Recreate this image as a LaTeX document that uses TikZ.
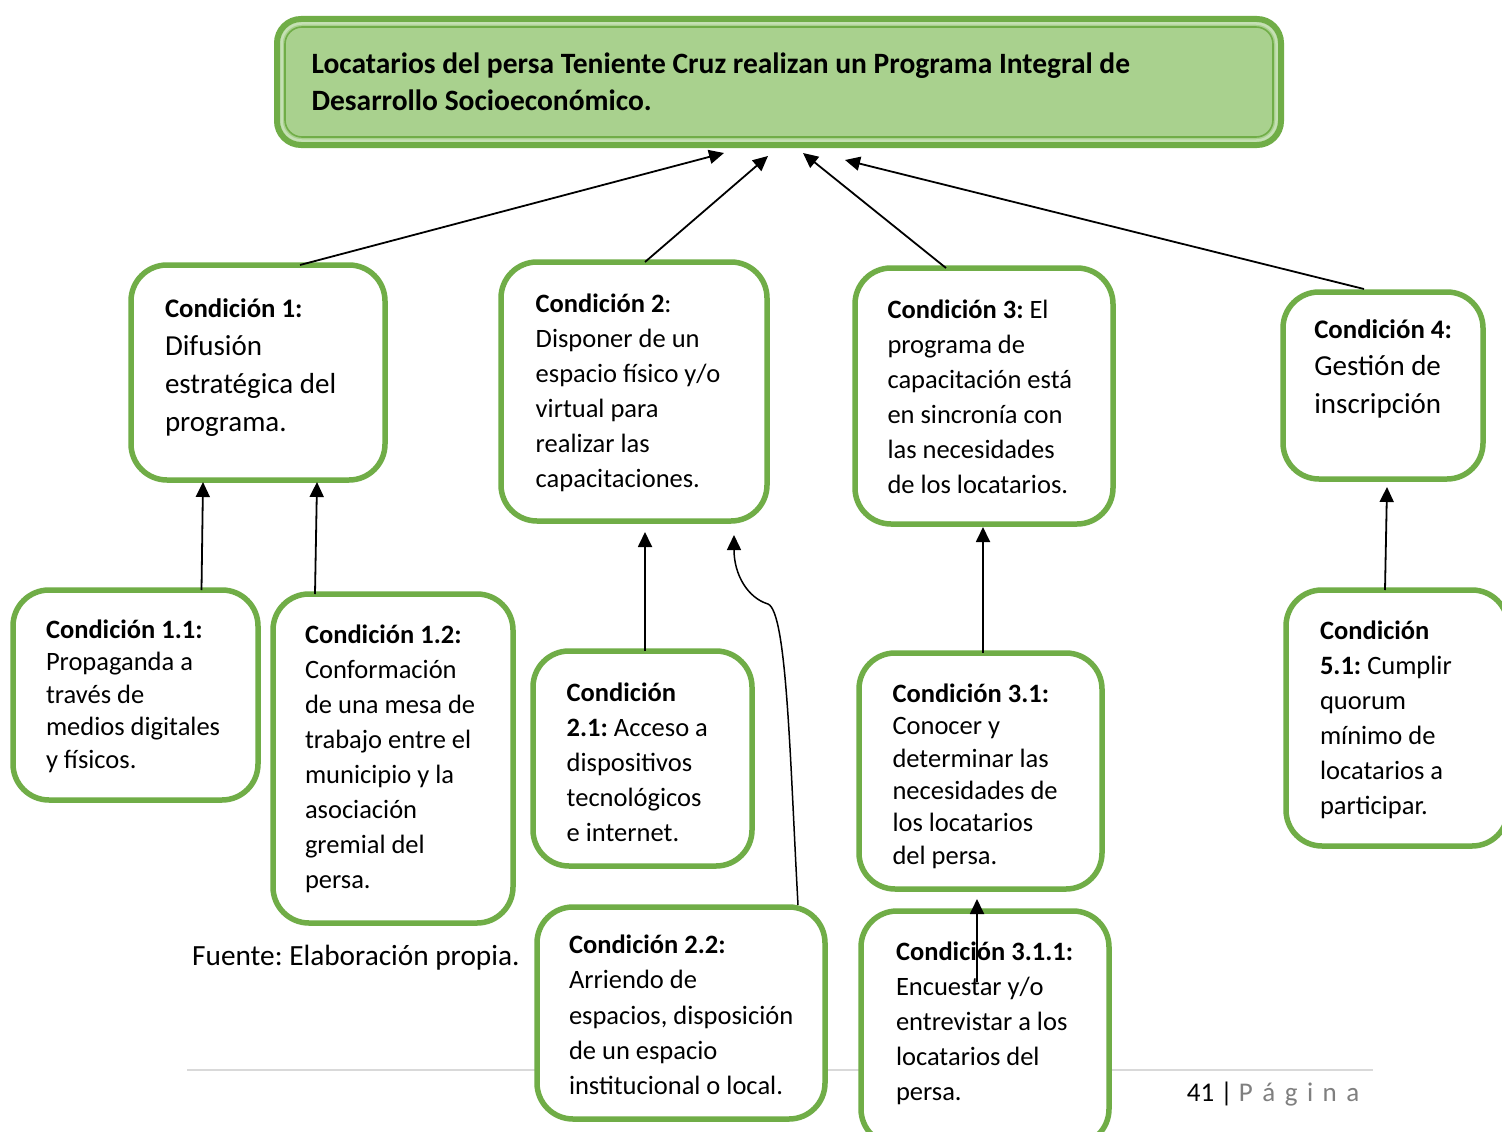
\documentclass[tikz,border=0pt]{standalone}
\usepackage{fontspec}
\setmainfont{Carlito}
\usetikzlibrary{arrows.meta,calc}
\definecolor{gbord}{HTML}{70AD47}
\definecolor{gfill}{HTML}{A9D18E}
\definecolor{glight}{HTML}{C5E0B4}
\definecolor{footgrey}{HTML}{D9D9D9}
\definecolor{pggrey}{HTML}{7F7F7F}
\newcommand{\fl}{\rule{0pt}{1em}}
\newcommand{\smallhead}[1]{{\fontsize{26.8}{38}\selectfont\textbf{#1}}}
\frenchspacing
\tikzset{
  condbox/.style={draw=gbord, line width=5.5pt, fill=white, rounded corners=36pt, inner sep=0pt, outer sep=0pt},
  topbox/.style={draw=gbord, line width=6pt, fill=gfill, rounded corners=24pt, inner sep=0pt, outer sep=0pt},
  txt/.style={anchor=north west, inner sep=0pt, outer sep=0pt, align=left, text=black},
  fs/.style={font=\frenchspacing\fontsize{26.5}{35}\selectfont},
  fsb/.style={font=\frenchspacing\fontsize{29}{38}\selectfont},
  arr/.style={draw=black, line width=1.8pt, -{Triangle[length=15pt,width=14pt]}}
}
\begin{document}
\begin{tikzpicture}[x=1pt,y=-1pt]
\useasboundingbox (0,0) rectangle (1502,1132);
\clip (0,0) rectangle (1502,1132);
\fill[white] (0,0) rectangle (1502,1132);

% footer line (behind boxes)
\coordinate (fl1) at (187,1070);
\coordinate (fl2) at (1373,1070);
\draw[footgrey, line width=2pt] (fl1) -- (fl2);

% top box
\node[topbox, minimum width=1004pt, minimum height=126pt] (top) at (779,82) {};
\draw[glight, line width=2.5pt, rounded corners=20pt] ($(top.north west)+(4.5,4.5)$) rectangle ($(top.south east)+(-4.5,-4.5)$);
\draw[gbord, line width=1.6pt, rounded corners=17pt] ($(top.north west)+(8,8)$) rectangle ($(top.south east)+(-8,-8)$);
\node[txt, font=\frenchspacing\bfseries\fontsize{29.5}{37.5}\selectfont] (topt) at (311.5,43.5) {\fl Locatarios del persa Teniente Cruz realizan un Programa Integral de\\Desarrollo Socioeconómico.};

% condition boxes
\node[condbox, minimum width=254pt, minimum height=215pt] (c1) at (258,372.5) {};
\node[condbox, minimum width=266pt, minimum height=259pt] (c2) at (634,391.5) {};
\node[condbox, minimum width=258pt, minimum height=256pt] (c3) at (984,396) {};
\node[condbox, minimum width=200pt, minimum height=187pt] (c4) at (1383,385.5) {};
\node[condbox, minimum width=245pt, minimum height=210pt] (c11) at (135.5,695) {};
\node[condbox, minimum width=240pt, minimum height=329pt] (c12) at (393,758.5) {};
\node[condbox, minimum width=219pt, minimum height=215pt] (c21) at (642.5,758.5) {};
\node[condbox, minimum width=288pt, minimum height=212pt] (c22) at (681,1013) {};
\node[condbox, minimum width=243pt, minimum height=236pt] (c31) at (980.5,771) {};
\node[condbox, minimum width=248pt, minimum height=234pt] (c311) at (985,1028) {};
\node[condbox, minimum width=222pt, minimum height=256pt] (c51) at (1397,718) {};

% texts
\node[txt, fsb] (c1t) at (165,288.7) {\fl\smallhead{Condición 1:}\\Difusión\\estratégica del\\programa.};
\node[txt, fs] (c2t) at (535.7,285.8) {\fl\textbf{Condición 2}:\\Disponer de un\\espacio físico y/o\\virtual para\\realizar las\\capacitaciones.};
\node[txt, fs] (c3t) at (887.5,291.8) {\fl\textbf{Condición 3:} El\\programa de\\capacitación está\\en sincronía con\\las necesidades\\de los locatarios.};
\node[txt, font=\frenchspacing\fontsize{29}{37.5}\selectfont] (c4t) at (1314.3,309.3) {\fl\smallhead{Condición 4:}\\Gestión de\\inscripción};
\node[txt, font=\frenchspacing\fontsize{26.5}{32.5}\selectfont] (c11t) at (46,611.8) {\fl\textbf{Condición 1.1:}\\Propaganda a\\través de\\medios digitales\\y físicos.};
\node[txt, fs] (c12t) at (305,616.8) {\fl\textbf{Condición 1.2:}\\Conformación\\de una mesa de\\trabajo entre el\\municipio y la\\asociación\\gremial del\\persa.};
\node[txt, fs] (c21t) at (566.7,675.2) {\fl\textbf{Condición}\\\textbf{2.1:} Acceso a\\dispositivos\\tecnológicos\\e internet.};
\node[txt, font=\frenchspacing\fontsize{26.5}{35.4}\selectfont] (c22t) at (569,926.8) {\fl\textbf{Condición 2.2:}\\Arriendo de\\espacios, disposición\\de un espacio\\institucional o local.};
\node[txt, font=\frenchspacing\fontsize{26.5}{32.4}\selectfont] (c31t) at (892.5,675.8) {\fl\textbf{Condición 3.1:}\\Conocer y\\determinar las\\necesidades de\\los locatarios\\del persa.};
\node[txt, fs] (c311t) at (896,933.5) {\fl\textbf{Condición 3.1.1:}\\Encuestar y/o\\entrevistar a los\\locatarios del\\persa.};
\node[txt, fs] (c51t) at (1320,612.8) {\fl\textbf{Condición}\\\textbf{5.1:} Cumplir\\quorum\\mínimo de\\locatarios a\\participar.};

% connectors
\draw[arr] ($(c1.north)+(42,0)$) -- ($(top.south)+(-55,8)$);
\draw[arr] ($(c2.north)+(11,0)$) -- ($(top.south)+(-11,11)$);
\draw[arr] ($(c3.north)+(-38,0)$) -- ($(top.south)+(24,8)$);
\draw[arr] ($(c4.north)+(-19,-3)$) -- ($(top.south)+(66,15)$);
\draw[arr] ($(c11.north)+(66,0)$) -- ($(c1.south)+(-55,2)$);
\draw[arr] ($(c12.north)+(-78,0)$) -- ($(c1.south)+(59,2)$);
\draw[arr] ($(c21.north)+(2.5,0)$) -- ($(c2.south)+(11,11)$);
\draw[arr, line width=1.5pt] ($(c22.north)+(117,-2)$) .. controls (790,760) and (787,612) .. (768,604) .. controls (748,598) and (734,575) .. ($(c2.south)+(100,14)$);
\draw[arr] ($(c31.north)+(2.5,0)$) -- ($(c3.south)+(-1,3)$);
\draw[arr] ($(c311.north)+(-8,71)$) -- ($(c31.south)+(-3.5,10)$);
\draw[arr] ($(c51.north)+(-12,0)$) -- ($(c4.south)+(4,8)$);

% footer texts
\node[anchor=base west, inner sep=0pt, font=\frenchspacing\fontsize{29.3}{34}\selectfont] (src) at (192,965) {Fuente: Elaboración propia.};
\node[anchor=base west, inner sep=0pt, font=\frenchspacing\fontsize{27}{32}\selectfont] (pg) at (1186.7,1101.7) {41 | \textcolor{pggrey}{P\hspace{9.5pt}á\hspace{9.5pt}g\hspace{9.5pt}i\hspace{9.5pt}n\hspace{9.5pt}a}};
\end{tikzpicture}
\end{document}
